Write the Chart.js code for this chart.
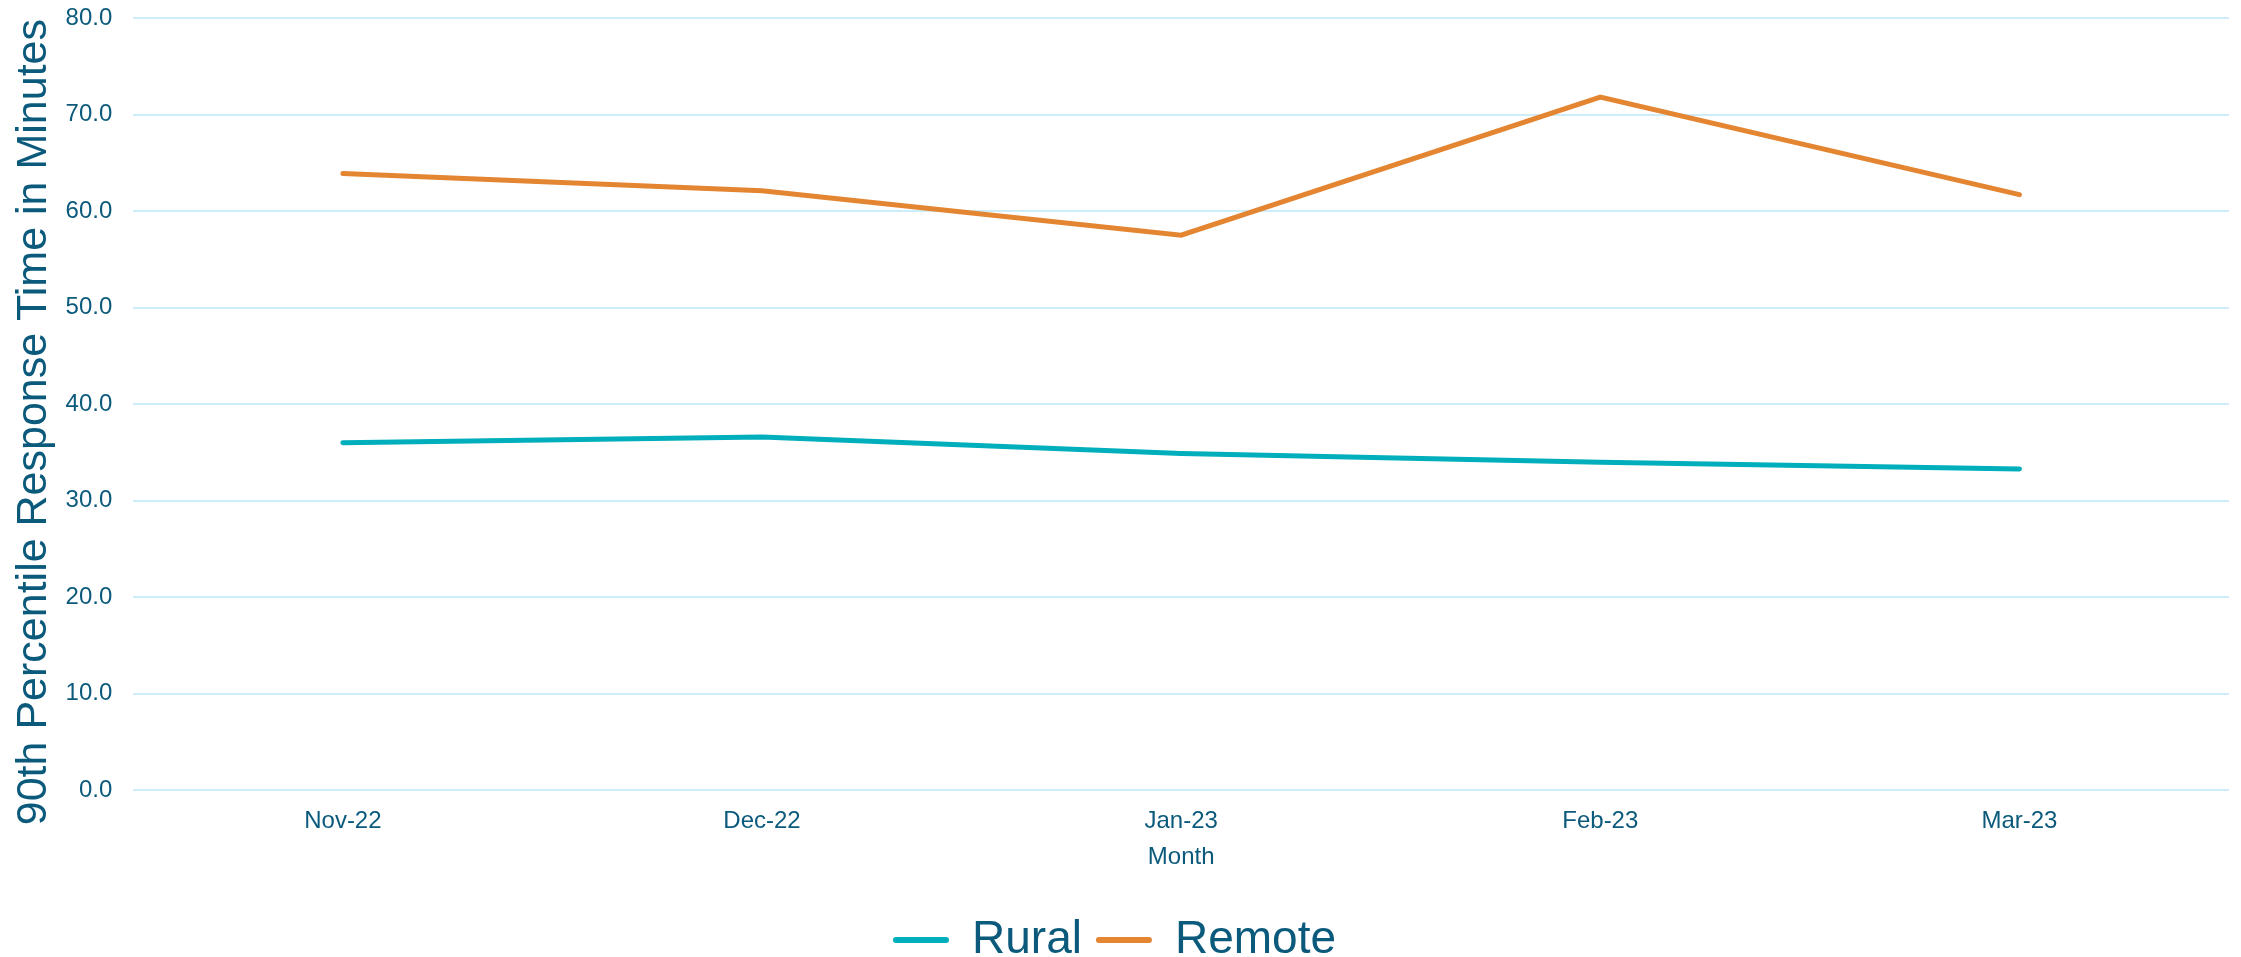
<!DOCTYPE html>
<html>
<head>
<meta charset="utf-8">
<script src="https://cdn.jsdelivr.net/npm/chart.js@4/dist/chart.umd.min.js"></script>
<style>
  html, body { margin: 0; padding: 0; background: #fff; }
  #wrap { width: 2241px; height: 957px; position: relative; }
</style>
</head>
<body>
<div id="wrap"><canvas id="myChart"></canvas></div>
<script>
// chart data
var months = ["Nov-22", "Dec-22", "Jan-23", "Feb-23", "Mar-23"];
var rural = [36.0, 36.6, 34.9, 34.0, 33.3];
var remote = [63.9, 62.1, 57.5, 71.8, 61.7];

var textColor = "#0B5A7C";
var gridColor = "#CDEDFB";

var ctx = document.getElementById("myChart").getContext("2d");
var myChart = new Chart(ctx, {
  type: "line",
  data: {
    labels: months,
    datasets: [
      {
        label: "Rural",
        data: rural,
        borderColor: "#00AEBC",
        backgroundColor: "#00AEBC",
        borderWidth: 5,
        borderCapStyle: "round",
        pointRadius: 0,
        tension: 0,
      },
      {
        label: "Remote",
        data: remote,
        borderColor: "#E48532",
        backgroundColor: "#E48532",
        borderWidth: 5,
        borderCapStyle: "round",
        pointRadius: 0,
        tension: 0,
      },
    ],
  },
  options: {
    responsive: true,
    maintainAspectRatio: false,
    animation: false,
    layout: { padding: { top: 0, right: 12, left: 0, bottom: -16 } },
    plugins: {
      tooltip: { enabled: false },
      legend: {
        position: "bottom",
        labels: {
          color: textColor,
          font: { family: "Liberation Sans", size: 46 },
          boxWidth: 56,
          boxHeight: 6,
          useBorderRadius: true,
          borderRadius: 3,
          padding: 14,
          generateLabels: function (chart) {
            var items = Chart.defaults.plugins.legend.labels.generateLabels(chart);
            items.forEach(function (it) { it.lineWidth = 0; });
            return items;
          },
        },
      },
    },
    scales: {
      x: {
        offset: true,
        grid: { display: false, drawTicks: false },
        border: { display: false },
        ticks: {
          color: textColor,
          font: { family: "Liberation Sans", size: 24 },
          padding: 17,
        },
        title: {
          display: true,
          text: "Month",
          color: textColor,
          font: { family: "Liberation Sans", size: 24 },
          padding: { top: -10, bottom: 31 },
        },
      },
      y: {
        min: 0,
        max: 80,
        afterFit: function (scale) {
          // keep the top gridline close to the top edge
          scale.paddingTop = 18;
        },
        ticks: {
          stepSize: 10,
          color: textColor,
          font: { family: "Liberation Sans", size: 24 },
          padding: 21,
          callback: function (v) { return v.toFixed(1); },
        },
        grid: { color: gridColor, lineWidth: 2, drawTicks: false },
        border: { display: false },
        title: {
          display: true,
          text: "90th Percentile Response Time in Minutes   ",
          color: textColor,
          font: { family: "Liberation Sans", size: 43 },
          padding: { top: 8, bottom: -15 },
        },
      },
    },
  },
});
</script>
</body>
</html>
